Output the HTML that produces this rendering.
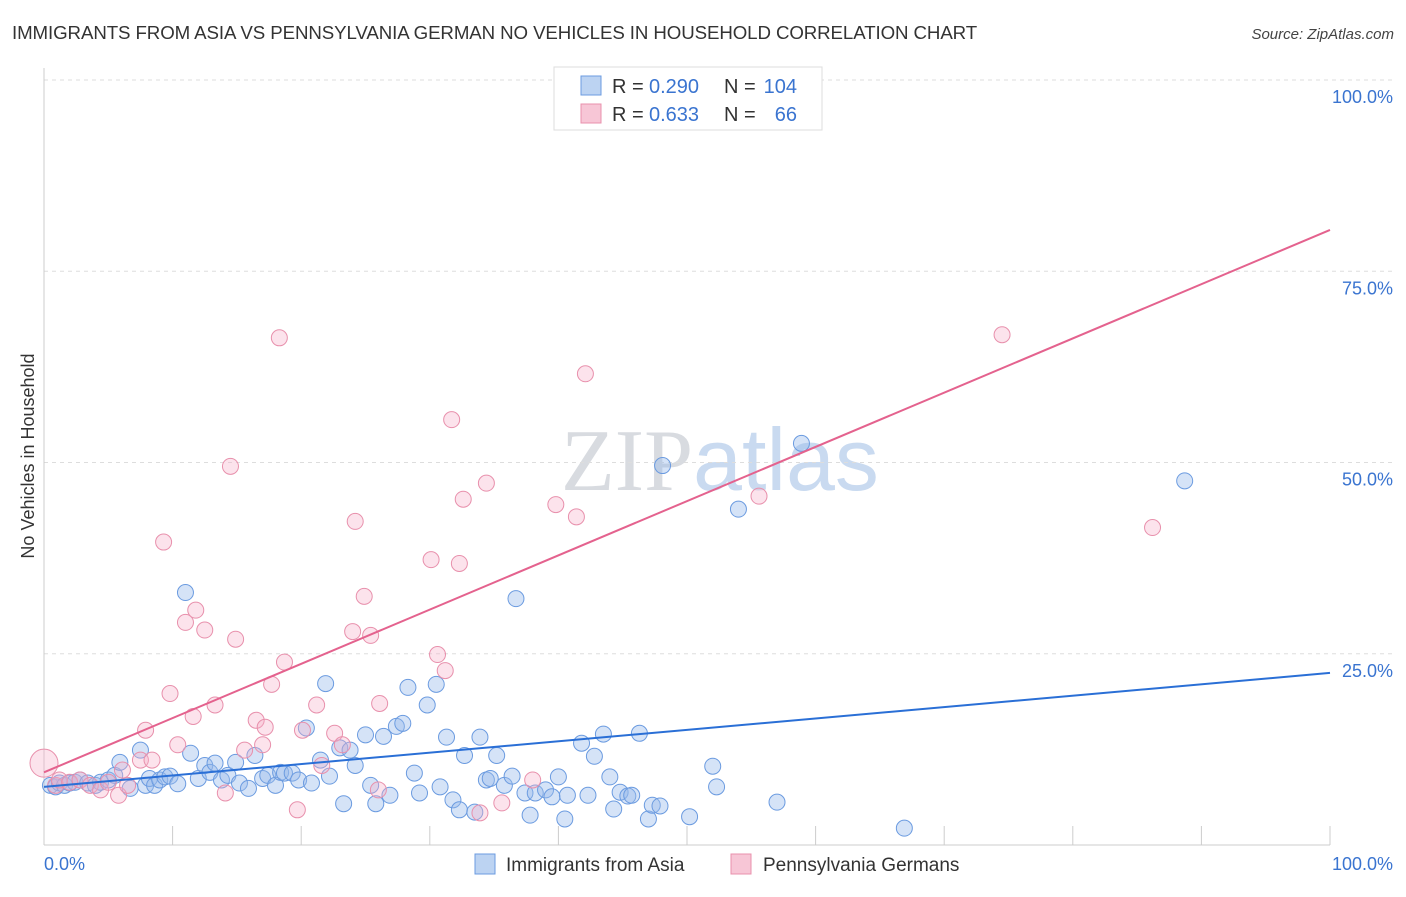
<!DOCTYPE html>
<html><head><meta charset="utf-8"><style>
body{margin:0;background:#fff;font-family:"Liberation Sans",sans-serif;}
svg text{font-family:"Liberation Sans",sans-serif;}
</style></head><body>
<svg id="chart" width="1406" height="892" viewBox="0 0 1406 892">
<text x="12" y="39" font-size="18.7" fill="#333" letter-spacing="-0.1">IMMIGRANTS FROM ASIA VS PENNSYLVANIA GERMAN NO VEHICLES IN HOUSEHOLD CORRELATION CHART</text>
<text x="1394" y="39" font-size="15" fill="#444" text-anchor="end" font-style="italic">Source: ZipAtlas.com</text>
<text x="720" y="490" font-size="88" text-anchor="middle" fill="#dde3ea"><tspan font-family="Liberation Serif" fill="#d8dbe0">ZIP</tspan><tspan fill="#c9daf0">atlas</tspan></text>
<text transform="translate(34,456) rotate(-90)" font-size="18" fill="#333" text-anchor="middle">No Vehicles in Household</text>
<g id="grid"></g><g id="ticks"></g><g id="pts"></g><g id="lines"></g>
<g>
<rect x="554" y="67" width="268" height="63" fill="#fff" stroke="#ddd"/>
<rect x="581" y="76" width="20" height="19" fill="#bcd3f2" stroke="#6b9be0"/>
<rect x="581" y="104" width="20" height="19" fill="#f7c6d6" stroke="#e890ac"/>
<text x="612" y="93" font-size="20" fill="#333">R =</text>
<text x="649" y="93" font-size="20" fill="#3a74d0">0.290</text>
<text x="724" y="93" font-size="20" fill="#333">N =</text>
<text x="797" y="93" font-size="20" fill="#3a74d0" text-anchor="end">104</text>
<text x="612" y="121" font-size="20" fill="#333">R =</text>
<text x="649" y="121" font-size="20" fill="#3a74d0">0.633</text>
<text x="724" y="121" font-size="20" fill="#333">N =</text>
<text x="797" y="121" font-size="20" fill="#3a74d0" text-anchor="end">66</text>
</g>
<g>
<rect x="475" y="854" width="20" height="20" fill="#bcd3f2" stroke="#6b9be0"/>
<text x="506" y="871" font-size="19" fill="#333">Immigrants from Asia</text>
<rect x="731" y="854" width="20" height="20" fill="#f7c6d6" stroke="#e890ac"/>
<text x="763" y="871" font-size="19" fill="#333">Pennsylvania Germans</text>
</g>
</svg>
<script>
const yTicks=[25,50,75,100];
const yTickLabels=["25.0%","50.0%","75.0%","100.0%"];
const xTickLabels=["0.0%","100.0%"];
const blueX=[0.5,0.9,1.2,1.6,2.0,2.4,2.8,3.4,4.0,4.4,5.0,5.5,5.9,6.7,7.5,7.9,8.2,8.6,9.0,9.4,9.8,10.4,11.0,11.4,12.0,12.5,12.9,13.3,13.8,14.3,14.9,15.2,15.9,16.4,17.0,17.4,18.0,18.4,18.7,19.3,19.8,20.4,20.8,21.5,21.9,22.2,23.0,23.3,23.8,24.2,25.0,25.4,25.8,26.4,26.9,27.4,27.9,28.3,28.8,29.2,29.8,30.5,30.8,31.3,31.8,32.3,32.7,33.5,33.9,34.4,34.7,35.2,35.8,36.4,36.7,37.4,37.8,38.2,39.0,39.5,40.0,40.5,40.7,41.8,42.3,42.8,43.5,44.0,44.3,44.8,45.4,45.7,46.3,47.0,47.3,47.9,48.1,50.2,52.0,52.3,54.0,57.0,58.9,66.9,88.7];
const blueY=[7.8,7.6,8.1,7.8,8.1,8.2,8.5,8.1,7.8,8.2,8.5,9.1,10.8,7.4,12.4,7.8,8.7,7.8,8.5,8.9,9.0,8.0,33.0,12.0,8.7,10.4,9.5,10.7,8.5,9.1,10.8,8.1,7.4,11.7,8.7,9.1,7.8,9.5,9.4,9.4,8.5,15.3,8.1,11.1,21.1,9.0,12.7,5.4,12.4,10.4,14.4,7.8,5.4,14.2,6.5,15.5,15.9,20.6,9.4,6.8,18.3,21.0,7.6,14.1,5.9,4.6,11.7,4.3,14.1,8.5,8.7,11.7,7.8,9.0,32.2,6.8,3.9,6.8,7.2,6.3,8.9,3.4,6.5,13.3,6.5,11.6,14.5,8.9,4.7,6.9,6.4,6.5,14.6,3.4,5.2,5.1,49.6,3.7,10.3,7.6,43.9,5.6,52.5,2.2,47.6];
const pinkX=[0.9,1.2,2.0,2.8,3.6,4.4,5.0,5.8,6.1,6.5,7.5,7.9,8.4,9.3,9.8,10.4,11.0,11.6,11.8,12.5,13.3,14.1,14.5,14.9,15.6,16.5,17.0,17.2,17.7,18.3,18.7,19.7,20.1,21.2,21.6,22.6,23.2,24.2,24.0,24.9,25.4,26.1,26.0,30.1,30.6,31.2,31.7,32.3,32.6,33.9,34.4,35.6,38.0,39.8,41.4,42.1,55.6,74.5,86.2,54.0];
const pinkY=[7.8,8.5,8.2,8.5,7.8,7.2,8.2,6.5,9.8,7.8,11.1,15.0,11.1,39.6,19.8,13.1,29.1,16.8,30.7,28.1,18.3,6.8,49.5,26.9,12.4,16.3,13.1,15.4,21.0,66.3,23.9,4.6,15.0,18.3,10.4,14.6,13.1,42.3,27.9,32.5,27.4,18.5,7.2,37.3,24.9,22.8,55.6,36.8,45.2,4.2,47.3,5.5,8.5,44.5,42.9,61.6,45.6,66.7,41.5,99.9];
const blueLine=[7.6,22.5];
const pinkLine=[9.5,80.4];
const NS="http://www.w3.org/2000/svg";
const X0=44,X1=1330,Y0=845,Y100=80;
function sx(v){return X0+(X1-X0)*v/100;}
function sy(v){return Y0-(Y0-Y100)*v/100;}
function mk(t,a,p){const e=document.createElementNS(NS,t);for(const k in a)e.setAttribute(k,a[k]);p.appendChild(e);return e;}
const grid=document.getElementById('grid'),ticks=document.getElementById('ticks'),pts=document.getElementById('pts'),lines=document.getElementById('lines');
yTicks.forEach((v,i)=>{
 const l=mk('line',{x1:X0,x2:1394,y1:sy(v),y2:sy(v),stroke:'#ddd','stroke-dasharray':'4,4'},grid);
 
 
 const t=mk('text',{x:1393,y:sy(v)+23,'font-size':18,fill:'#3a74d0','text-anchor':'end'},ticks);
 t.textContent=yTickLabels[i];
 
 
});
const ax=mk('line',{x1:X0,x2:X0,y1:68,y2:Y0,stroke:'#ccc'},grid);


const bx=mk('line',{x1:X0,x2:X1,y1:Y0,y2:Y0,stroke:'#ccc'},grid);


for(let i=0;i<=10;i++){const t=mk('line',{x1:sx(i*10),x2:sx(i*10),y1:826,y2:Y0,stroke:'#ccc'},grid);
 
 }
[[0,'start'],[100,'end']].forEach((d,i)=>{const t=mk('text',{x:d[0]===0?44:1393,y:870,'font-size':18,fill:'#3a74d0','text-anchor':d[1]},ticks);t.textContent=xTickLabels[i];
 
 });
blueX.forEach((v,i)=>{const c=mk('circle',{cx:sx(v),cy:sy(blueY[i]),r:8,fill:'rgba(150,185,235,0.4)',stroke:'#6b9be0','stroke-width':1},pts);
 
 });
pinkX.forEach((v,i)=>{const c=mk('circle',{cx:sx(v),cy:sy(pinkY[i]),r:8,fill:'rgba(245,175,200,0.35)',stroke:'#e890ac','stroke-width':1},pts);
 
 });
const big=mk('circle',{cx:sx(0),cy:sy(10.7),r:14,fill:'rgba(245,175,200,0.35)',stroke:'#e890ac'},pts);


const bl=mk('line',{x1:sx(0),y1:sy(blueLine[0]),x2:sx(100),y2:sy(blueLine[1]),stroke:'#2a6fd6','stroke-width':2},lines);


const pl=mk('line',{x1:sx(0),y1:sy(pinkLine[0]),x2:sx(100),y2:sy(pinkLine[1]),stroke:'#e4628e','stroke-width':2},lines);


</script>
</body></html>
